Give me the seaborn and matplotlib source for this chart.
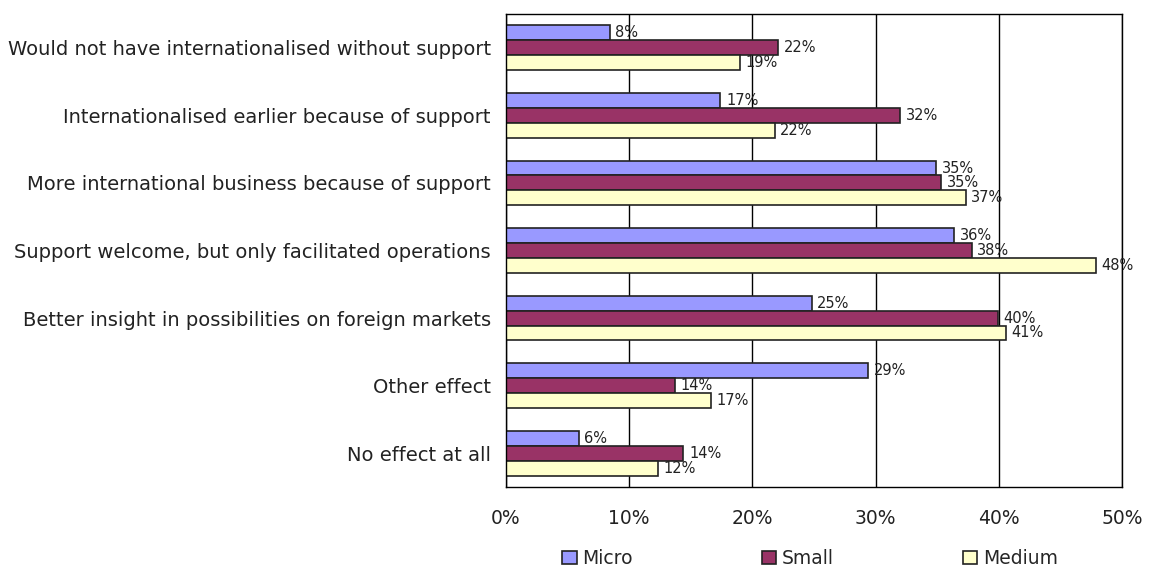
import matplotlib
matplotlib.use("Agg")
import matplotlib.pyplot as plt
import seaborn as sns
import pandas as pd

categories = [
    "Would not have internationalised without support",
    "Internationalised earlier because of support",
    "More international business because of support",
    "Support welcome, but only facilitated operations",
    "Better insight in possibilities on foreign markets",
    "Other effect",
    "No effect at all",
]
series_names = ["Micro", "Small", "Medium"]
micro = [8.4, 17.4, 34.9, 36.4, 24.8, 29.4, 5.9]
small = [22.1, 32.0, 35.3, 37.8, 39.9, 13.7, 14.4]
medium = [19.0, 21.8, 37.3, 47.9, 40.6, 16.6, 12.3]
x_ticks = [0, 10, 20, 30, 40, 50]
x_tick_labels = ["0%", "10%", "20%", "30%", "40%", "50%"]
colors = ["#9999FF", "#993366", "#FFFFCC"]

rows = []
for name, vals in zip(series_names, [micro, small, medium]):
    for cat, v in zip(categories, vals):
        rows.append({"category": cat, "size": name, "share": v})
df = pd.DataFrame(rows)

sns.set_theme(style="white")
plt.rcParams["font.family"] = ["DejaVu Sans"]
plt.rcParams["font.sans-serif"] = ["DejaVu Sans"]

fig = plt.figure(figsize=(11.54, 5.69), dpi=100)
ax = fig.add_axes([0.4385, 0.1441, 0.5338, 0.8313])

sns.barplot(
    data=df, y="category", x="share", hue="size",
    order=categories, hue_order=series_names,
    palette=colors, width=0.66, orient="h",
    edgecolor="#222222", linewidth=1.2, saturation=1,
    errorbar=None, ax=ax, legend=True,
)

for container in ax.containers:
    ax.bar_label(container, labels=[f"{v:.0f}%" for v in container.datavalues],
                 padding=4, fontsize=10.5, color="#222222", family="DejaVu Sans")

ax.set_xlim(0, 50)
ax.set_xticks(x_ticks)
ax.set_xticklabels(x_tick_labels, fontsize=13.5, color="#222222", family="DejaVu Sans")
ax.set_yticks(range(len(categories)))
ax.set_yticklabels(categories, fontsize=14, color="#222222", family="DejaVu Sans")
ax.tick_params(axis="x", length=0, pad=16)
ax.tick_params(axis="y", length=0, pad=11)
ax.set_xlabel("")
ax.set_ylabel("")
ax.set_axisbelow(True)
ax.xaxis.grid(True, color="#000000", linewidth=1.0)
ax.yaxis.grid(False)
for sp in ax.spines.values():
    sp.set_visible(True)
    sp.set_color("#000000")
    sp.set_linewidth(1.0)

handles, labels = ax.get_legend_handles_labels()
ax.legend_.remove()
fig.legend(handles, labels, loc="lower center", bbox_to_anchor=(0.702, -0.028),
           ncol=3, frameon=False, prop={"family": "DejaVu Sans", "size": 13.5},
           columnspacing=6.9, handlelength=0.75, handleheight=0.75, handletextpad=0.3)

fig.savefig("out.png", dpi=100, facecolor="white")
